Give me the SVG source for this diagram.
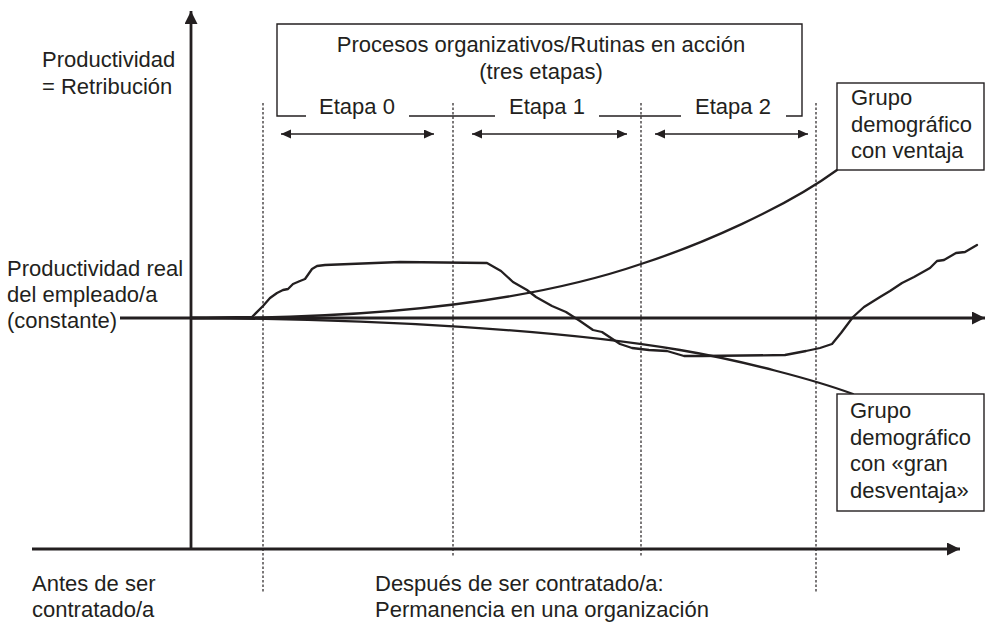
<svg xmlns="http://www.w3.org/2000/svg" width="987" height="625" viewBox="0 0 987 625">
<style>
text{font-family:"Liberation Sans",Arial,Helvetica,sans-serif;font-size:22px;fill:#231f20}
.axis{stroke:#231f20;stroke-width:2.8;fill:none}
.curve{stroke:#231f20;stroke-width:2.3;fill:none;stroke-linejoin:round;stroke-linecap:round}
.box{stroke:#231f20;stroke-width:1.4;fill:#fff}
.open{stroke:#231f20;stroke-width:1.4;fill:none}
.dash{stroke:#231f20;stroke-width:1.2;stroke-dasharray:2.5 2;fill:none}
.span{stroke:#231f20;stroke-width:1.5;fill:none}
.mid{text-anchor:middle}
</style>
<defs>
<marker id="ah" markerUnits="userSpaceOnUse" markerWidth="14" markerHeight="14" refX="13" refY="6.5" orient="auto">
<path d="M0,0 L13,6.5 L0,13 z" fill="#231f20"/>
</marker>
<marker id="sh" markerUnits="userSpaceOnUse" markerWidth="11" markerHeight="10" refX="10" refY="4.5" orient="auto-start-reverse">
<path d="M0,0 L10,4.5 L0,9 z" fill="#231f20"/>
</marker>
</defs>

<g id="guides">
<path class="dash" d="M263,103 V592"/>
<path class="dash" d="M453,103 V556"/>
<path class="dash" d="M641,103 V556"/>
<path class="dash" d="M816,103 V592"/>
</g>

<g id="axes">
<path class="axis" d="M191,549 V11" marker-end="url(#ah)"/>
<path class="axis" d="M32,549 H960" marker-end="url(#ah)"/>
<path class="axis" d="M120,318 H985" marker-end="url(#ah)"/>
</g>

<g id="stages">
<path class="open" d="M306,116 H277 V24 H802 V116 H786 M409,116 H495 M599,116 H681"/>
<text class="mid" x="541" y="52">Procesos organizativos/Rutinas en acción</text>
<text class="mid" x="541" y="79">(tres etapas)</text>
<text class="mid" x="357" y="114">Etapa 0</text>
<text class="mid" x="547" y="114">Etapa 1</text>
<text class="mid" x="733" y="114">Etapa 2</text>
<path class="span" d="M281,134 H434" marker-start="url(#sh)" marker-end="url(#sh)"/>
<path class="span" d="M472,134 H627" marker-start="url(#sh)" marker-end="url(#sh)"/>
<path class="span" d="M655,134 H808" marker-start="url(#sh)" marker-end="url(#sh)"/>
</g>

<g id="connectors">
<path id="ventaja-curve" class="curve" d="M191,318 C380,319 530,302 641,264 C700,245 785,208 837,170"/>
<path id="desventaja-curve" class="curve" d="M191,318 C380,319 560,330 680,350 C740,360 815,380 853,394"/>
<polyline id="real-curve" class="curve" points="191,318 252,317 263,306 270,298 277,293 283,290 288,289 293,284 300,281 305,279 312,269 317,266 325,265 400,262 487,263 501,271 513,282 527,290 536,297 552,306 566,312 580,321 593,330 602,332 611,338 620,344 632,348 649,350 667,351 684,356 702,356 785,355 806,351 820,348 832,344 841,333 853,317 864,307 880,297 890,291 902,283 914,277 930,268 937,261 944,260 956,253 965,252 977,245"/>
</g>

<g id="y-label">
<text x="42" y="67">Productividad</text>
<text x="42" y="94">= Retribución</text>
</g>

<g id="real-label">
<text x="7" y="276">Productividad real</text>
<text x="7" y="302">del empleado/a</text>
<text x="7" y="328">(constante)</text>
</g>

<g id="ventaja-box">
<rect class="box" x="837" y="83" width="147" height="87"/>
<text x="851" y="105">Grupo</text>
<text x="851" y="131.5">demográfico</text>
<text x="851" y="158">con ventaja</text>
</g>

<g id="desventaja-box">
<rect class="box" x="837" y="394" width="147" height="117"/>
<text x="850" y="418">Grupo</text>
<text x="850" y="444.5">demográfico</text>
<text x="850" y="471">con «gran</text>
<text x="850" y="497.5">desventaja»</text>
</g>

<g id="x-labels">
<text x="32" y="591">Antes de ser</text>
<text x="32" y="617">contratado/a</text>
<text x="375" y="591">Después de ser contratado/a:</text>
<text x="375" y="617">Permanencia en una organización</text>
</g>
</svg>
